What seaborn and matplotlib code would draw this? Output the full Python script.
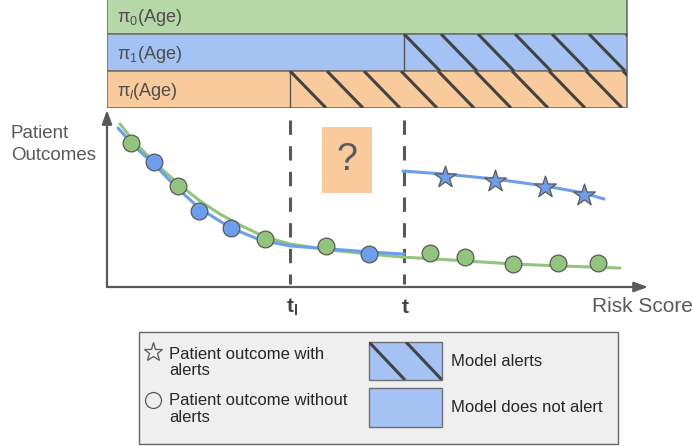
import numpy as np
import matplotlib.pyplot as plt
from matplotlib.patches import Rectangle
from matplotlib.collections import LineCollection
import seaborn as sns

# risk score axis runs 0..100, patient outcome axis 0..10
green_line_x = [2.40, 5.18, 7.95, 10.72, 13.49, 17.19, 20.89, 24.58, 29.21, 33.83,
                41.22, 48.61, 54.71, 63.40, 75.05, 83.73, 94.82]
green_line_y = [9.21, 8.14, 7.29, 6.50, 5.76, 4.86, 4.12, 3.50, 2.82, 2.43,
                2.09, 1.86, 1.69, 1.53, 1.30, 1.19, 1.07]
blue_line_x = [2.03, 5.18, 8.69, 12.57, 17.01, 22.92, 28.28, 33.83, 41.22, 48.43, 54.90]
blue_line_y = [8.98, 7.91, 6.95, 5.71, 4.46, 3.33, 2.66, 2.32, 2.15, 1.98, 1.86]
alert_line_x = [54.71, 62.48, 71.72, 80.96, 88.17, 91.87]
alert_line_y = [6.55, 6.38, 6.10, 5.71, 5.31, 4.97]

green_pts_x = [4.44, 13.12, 29.21, 40.48, 59.70, 66.17, 75.05, 83.36, 90.76]
green_pts_y = [8.14, 5.71, 2.71, 2.32, 1.92, 1.69, 1.30, 1.36, 1.36]
blue_pts_x = [8.69, 17.01, 22.92, 48.43]
blue_pts_y = [7.06, 4.29, 3.33, 1.86]
star_x = [62.48, 71.72, 80.96, 88.17]
star_y = [6.21, 5.99, 5.65, 5.20]

t_low = 33.83
t_high = 54.90
band_end = 96.1
band_labels = ["π$_0$(Age)", "π$_1$(Age)", "π$_l$(Age)"]
band_colors = ["#b6d7a8", "#a4c2f4", "#f9cb9c"]
band_alert_from = [None, t_high, t_low]

GREEN = "#93c47d"
BLUE = "#6d9eeb"
DARK = "#434343"
GRAY = "#595959"

sns.set_style("white")
plt.rcParams["font.family"] = ["Liberation Sans", "DejaVu Sans"]
plt.rcParams["mathtext.fontset"] = "custom"
plt.rcParams["mathtext.rm"] = "Liberation Sans"
plt.rcParams["mathtext.it"] = "Liberation Sans:italic"
plt.rcParams["mathtext.bf"] = "Liberation Sans:bold"

W, H = 693, 446
fig = plt.figure(figsize=(W / 100, H / 100), dpi=100)


def px_box(x0, y0, x1, y1):
    return [x0 / W, 1 - y1 / H, (x1 - x0) / W, (y1 - y0) / H]


def add_hatch(ax, x0, x1, top, bot, step, slant, clip):
    segs = [[(x, top), (x + slant, bot)] for x in np.arange(x0, x1, step)]
    lc = LineCollection(segs, colors=DARK, linewidths=2.2, capstyle="butt", zorder=3)
    ax.add_collection(lc)
    # set after add_collection, otherwise the axes patch replaces it
    lc.set_clip_path(clip)


# ---- main chart ----
ax = fig.add_axes(px_box(107, 110, 648, 287))
ax.set_xlim(0, 100)
ax.set_ylim(0, 10)
ax.axis("off")

arrow = dict(arrowstyle="-|>,head_length=0.55,head_width=0.2", mutation_scale=15,
             color=GRAY, lw=1.6, shrinkA=0, shrinkB=0)
ax.annotate("", xy=(0, 1), xytext=(0, 0), xycoords="axes fraction", arrowprops=arrow)
ax.annotate("", xy=(1, 0), xytext=(0, 0), xycoords="axes fraction", arrowprops=arrow)

for t in [t_low, t_high]:
    ax.plot([t, t], [9.43, 0.17], ls=(0, (4.7, 3.7)), lw=2.2, color=GRAY, zorder=1)

sns.lineplot(x=green_line_x, y=green_line_y, color=GREEN, lw=2.2, ax=ax, zorder=2)
sns.lineplot(x=blue_line_x, y=blue_line_y, color=BLUE, lw=2.2, ax=ax, zorder=3)
sns.lineplot(x=alert_line_x, y=alert_line_y, color=BLUE, lw=2.2, ax=ax, zorder=3)
sns.scatterplot(x=green_pts_x, y=green_pts_y, color=GREEN, s=145, edgecolor=GRAY,
                linewidth=0.9, ax=ax, zorder=4)
sns.scatterplot(x=blue_pts_x, y=blue_pts_y, color=BLUE, s=145, edgecolor=GRAY,
                linewidth=0.9, ax=ax, zorder=4)
sns.scatterplot(x=star_x, y=star_y, marker="*", color=BLUE, s=270, edgecolor=GRAY,
                linewidth=0.9, ax=ax, zorder=4)

ax.add_patch(Rectangle((39.74, 5.31), 9.24, 3.73, facecolor="#f9cb9c", edgecolor="none"))
ax.text(44.36, 7.18, "?", ha="center", va="center", fontsize=27, color=GRAY)

# ---- policy bands ----
axb = fig.add_axes(px_box(107, -3, 648, 108))
axb.set_xlim(0, 100)
axb.set_ylim(3, 0)
axb.axis("off")
bars = axb.barh(y=range(3), width=band_end, left=0, height=1, align="edge",
                color=band_colors, edgecolor="#707070", linewidth=1.2)
for i, (bar, label, start) in enumerate(zip(bars, band_labels, band_alert_from)):
    axb.text(1.85, i + 0.55, label, va="center", fontsize=13, color="#4d4d4d")
    if start is not None:
        axb.plot([start, start], [i, i + 1], color="#555555", lw=1)
        add_hatch(axb, start, band_end, i, i + 1, 6.84, 6.65, bar)

# ---- axis labels ----
fig.text(11 / W, 1 - 138 / H, "Patient", fontsize=13.5, color=GRAY, va="baseline")
fig.text(11 / W, 1 - 160 / H, "Outcomes", fontsize=13.5, color=GRAY, va="baseline")
fig.text(592 / W, 1 - 312 / H, "Risk Score", fontsize=15, color=GRAY, va="baseline")
fig.text(286 / W, 1 - 313 / H, r"$\mathbf{t_l}$", fontsize=15, color=DARK, va="baseline")
fig.text(405 / W, 1 - 313 / H, r"$\mathbf{t}$", fontsize=15, color=DARK, va="baseline",
         ha="center")

# ---- legend box ----
axl = fig.add_axes(px_box(139, 332, 618, 444))
axl.set_xlim(0, 479)
axl.set_ylim(112, 0)
axl.axis("off")
axl.add_patch(Rectangle((0, 0), 1, 1, transform=axl.transAxes, facecolor="#efefef",
                        edgecolor="#666666", lw=1, clip_on=False))
axl.plot(14, 20, marker="*", ms=14, mfc="none", mec=GRAY, mew=0.9)
axl.plot(14, 68, marker="o", ms=11.5, mfc="none", mec=GRAY, mew=0.9)
axl.text(30, 30.5, "Patient outcome with\nalerts", va="center", fontsize=12,
         color="#262626", linespacing=1.15)
axl.text(30, 77, "Patient outcome without\nalerts", va="center", fontsize=12,
         color="#262626", linespacing=1.15)
sw1 = Rectangle((230, 10), 73, 38, facecolor=band_colors[1], edgecolor="#707070", lw=1)
sw2 = Rectangle((230, 56), 73, 39, facecolor=band_colors[1], edgecolor="#707070", lw=1)
axl.add_patch(sw1)
axl.add_patch(sw2)
add_hatch(axl, 230, 303, 10, 48, 37, 36, sw1)
axl.text(312, 29, "Model alerts", va="center", fontsize=12, color="#262626")
axl.text(312, 75, "Model does not alert", va="center", fontsize=12, color="#262626")

fig.savefig("out.png", dpi=100)
